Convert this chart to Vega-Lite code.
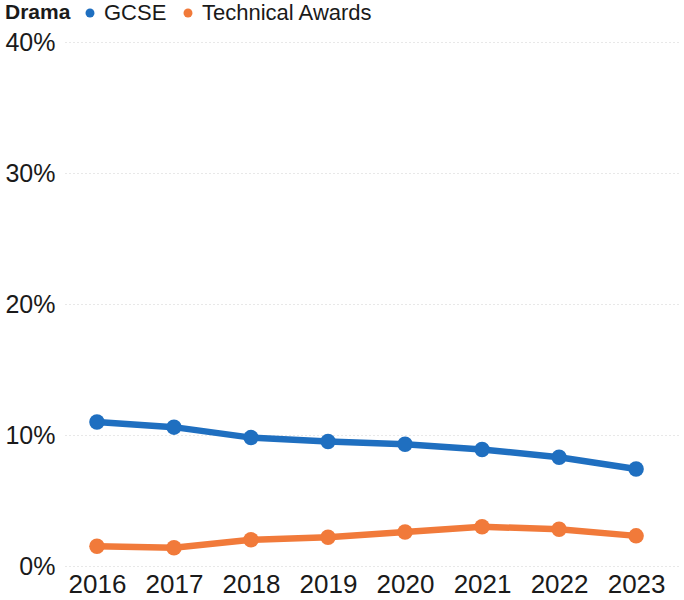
{
  "$schema": "https://vega.github.io/schema/vega-lite/v6.json",
  "autosize": {"type": "none"},
  "width": 615,
  "height": 524,
  "padding": {"left": 65, "top": 42, "right": 4, "bottom": 34},
  "background": "white",
  "config": {
    "font": "Liberation Sans",
    "view": {"stroke": null}
  },
  "data": {
    "values": [
      {"year": 2016, "series": "GCSE", "value": 0.110},
      {"year": 2017, "series": "GCSE", "value": 0.106},
      {"year": 2018, "series": "GCSE", "value": 0.098},
      {"year": 2019, "series": "GCSE", "value": 0.095},
      {"year": 2020, "series": "GCSE", "value": 0.093},
      {"year": 2021, "series": "GCSE", "value": 0.089},
      {"year": 2022, "series": "GCSE", "value": 0.083},
      {"year": 2023, "series": "GCSE", "value": 0.074},
      {"year": 2016, "series": "Technical Awards", "value": 0.015},
      {"year": 2017, "series": "Technical Awards", "value": 0.014},
      {"year": 2018, "series": "Technical Awards", "value": 0.020},
      {"year": 2019, "series": "Technical Awards", "value": 0.022},
      {"year": 2020, "series": "Technical Awards", "value": 0.026},
      {"year": 2021, "series": "Technical Awards", "value": 0.030},
      {"year": 2022, "series": "Technical Awards", "value": 0.028},
      {"year": 2023, "series": "Technical Awards", "value": 0.023}
    ]
  },
  "encoding": {
    "x": {
      "field": "year",
      "type": "quantitative",
      "scale": {"domain": [2015.585, 2023.57], "nice": false, "zero": false},
      "axis": {
        "title": null,
        "values": [2016, 2017, 2018, 2019, 2020, 2021, 2022, 2023],
        "format": "d",
        "grid": false,
        "domain": false,
        "ticks": false,
        "labelFontSize": 26,
        "labelColor": "#1a1a1a",
        "labelPadding": 5
      }
    },
    "y": {
      "field": "value",
      "type": "quantitative",
      "scale": {"domain": [0, 0.4], "nice": false},
      "axis": {
        "title": null,
        "format": ".0%",
        "values": [0, 0.1, 0.2, 0.3, 0.4],
        "grid": true,
        "gridColor": "#d0d0d0",
        "gridDash": [1, 3],
        "gridWidth": 1,
        "domain": false,
        "ticks": false,
        "labelFontSize": 25,
        "labelColor": "#1a1a1a",
        "labelPadding": 10
      }
    },
    "color": {
      "field": "series",
      "type": "nominal",
      "scale": {"domain": ["GCSE", "Technical Awards"], "range": ["#1f6fc0", "#f17a3a"]},
      "legend": {
        "title": "Drama",
        "titleOrient": "left",
        "titleFontSize": 21,
        "titleFontWeight": "bold",
        "titleColor": "#1a1a1a",
        "titlePadding": 8,
        "titleLimit": 0,
        "orient": "none",
        "legendX": -60,
        "legendY": -40,
        "direction": "horizontal",
        "labelFontSize": 22,
        "labelLimit": 0,
        "labelColor": "#1a1a1a",
        "symbolType": "circle",
        "symbolSize": 80,
        "symbolStrokeWidth": 0,
        "labelOffset": 3,
        "columnPadding": 10
      }
    }
  },
  "layer": [
    {"mark": {"type": "line", "strokeWidth": 6.5}},
    {"mark": {"type": "point", "filled": true, "size": 240, "opacity": 1}}
  ]
}
